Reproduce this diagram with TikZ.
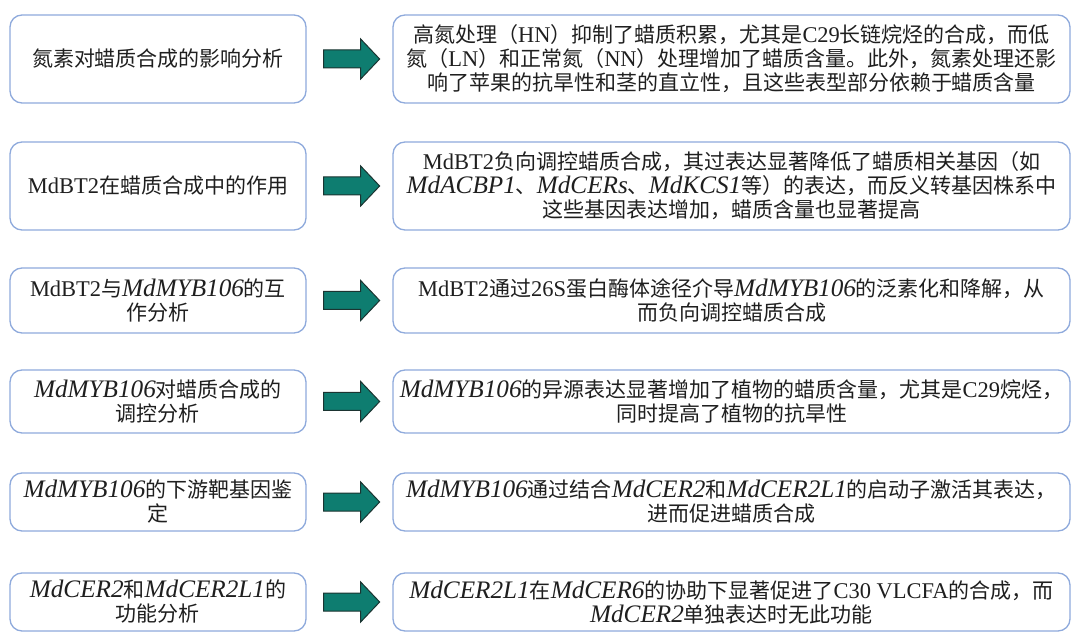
\documentclass[tikz,border=0pt]{standalone}
\usepackage{fontspec}
\setmainfont{Liberation Serif}
\newfontfamily\cjk{Noto Sans CJK SC}
\newfontfamily\latup{Liberation Serif}[Scale=1.07]
\newfontfamily\latit{Liberation Serif}[Scale=1.2]
\usetikzlibrary{calc}
\definecolor{boxblue}{HTML}{8FAADC}
\definecolor{arrowteal}{HTML}{0E7D70}
\definecolor{arrowedge}{HTML}{1B3431}
\newcommand{\gi}[1]{{\latit\itshape #1}}
\newcommand{\la}[1]{{\latup #1}}
\newcommand{\blockarrow}[1]{\draw[barrow] (#1) ++(-28,-9) -- ++(37,0) -- ++(0,-11) -- ++(19,20) -- ++(-19,20) -- ++(0,-11) -- ++(-37,0) -- cycle;}
\tikzset{
  box/.style={draw=boxblue, line width=1.3pt, rounded corners=12pt, fill=white, align=center,
    text=black!88, font=\cjk\fontsize{21}{24}\selectfont, inner sep=0pt},
  lbox/.style={box, minimum width=296pt},
  rbox/.style={box, minimum width=677pt},
  barrow/.style={fill=arrowteal, draw=arrowedge, line width=1pt, line join=miter}
}
\begin{document}
\begin{tikzpicture}[x=1pt,y=-1pt]
\useasboundingbox (0,0) rectangle (1080,644);
% row 1
\node[lbox, minimum height=88pt] (L1) at (158,59) {氮素对蜡质合成的影响分析};
\node[rbox, minimum height=88pt] (R1) at (731.5,59) {高氮处理（\la{HN}）抑制了蜡质积累，尤其是\la{C29}长链烷烃的合成，而低\\氮（\la{LN}）和正常氮（\la{NN}）处理增加了蜡质含量。此外，氮素处理还影\\响了苹果的抗旱性和茎的直立性，且这些表型部分依赖于蜡质含量};
% row 2
\node[lbox, minimum height=88pt] (L2) at (158,186) {\la{MdBT2}在蜡质合成中的作用};
\node[rbox, minimum height=88pt] (R2) at (731.5,186) {\la{MdBT2}负向调控蜡质合成，其过表达显著降低了蜡质相关基因（如\\\gi{MdACBP1}、\gi{MdCERs}、\gi{MdKCS1}等）的表达，而反义转基因株系中\\这些基因表达增加，蜡质含量也显著提高};
% row 3
\node[lbox, minimum height=65pt] (L3) at (158,300.5) {\la{MdBT2}与\gi{MdMYB106}的互\\作分析};
\node[rbox, minimum height=65pt] (R3) at (731.5,300.5) {\la{MdBT2}通过\la{26S}蛋白酶体途径介导\gi{MdMYB106}的泛素化和降解，从\\而负向调控蜡质合成};
% row 4
\node[lbox, minimum height=63pt] (L4) at (158,401.5) {\gi{MdMYB106}对蜡质合成的\\调控分析};
\node[rbox, minimum height=63pt] (R4) at (731.5,401.5) {\gi{MdMYB106}的异源表达显著增加了植物的蜡质含量，尤其是\la{C29}烷烃，\\同时提高了植物的抗旱性};
% row 5
\node[lbox, minimum height=58pt] (L5) at (158,502) {\gi{MdMYB106}的下游靶基因鉴\\定};
\node[rbox, minimum height=58pt] (R5) at (731.5,502) {\gi{MdMYB106}通过结合\gi{MdCER2}和\gi{MdCER2L1}的启动子激活其表达，\\进而促进蜡质合成};
% row 6
\node[lbox, minimum height=58pt] (L6) at (158,602) {\gi{MdCER2}和\gi{MdCER2L1}的\\功能分析};
\node[rbox, minimum height=58pt] (R6) at (731.5,602) {\gi{MdCER2L1}在\gi{MdCER6}的协助下显著促进了\la{C30 VLCFA}的合成，而\\\gi{MdCER2}单独表达时无此功能};
% arrows
\foreach \i in {1,...,6}{
  \coordinate (a\i) at ($(L\i.east)+(45,0)$);
  \blockarrow{a\i}
}
\end{tikzpicture}
\end{document}
